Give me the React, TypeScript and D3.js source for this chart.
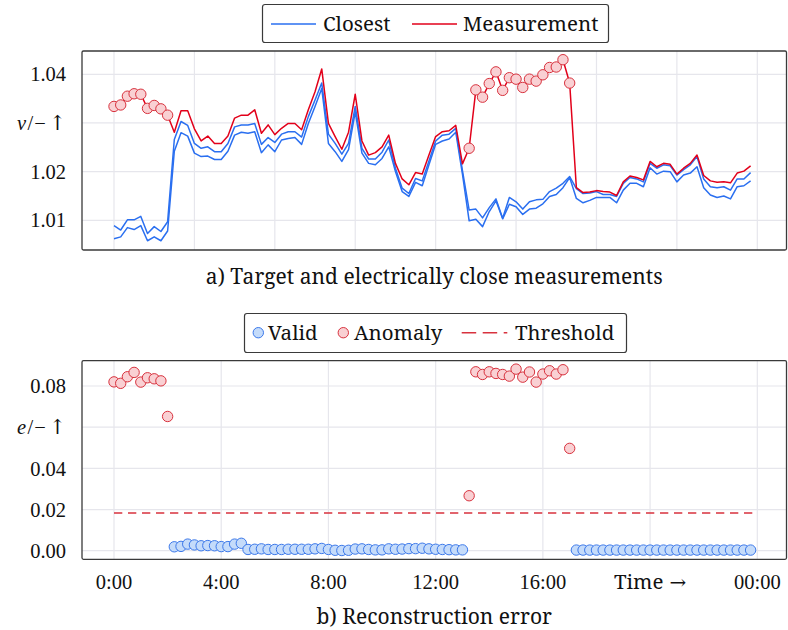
import React from 'react';
import * as d3 from 'd3';

// 15-minute samples over one day (index -> hours = index / 4)
const measurement = [
  1.0334, 1.0337, 1.0355, 1.0360, 1.0359, 1.0330, 1.0336, 1.0329, 1.0316, 1.0281,
  1.0325, 1.0325, 1.0288, 1.0263, 1.0273, 1.0258, 1.0258, 1.0273, 1.0310, 1.0316,
  1.0316, 1.0327, 1.0279, 1.0296, 1.0276, 1.0289, 1.0299, 1.0299, 1.0286, 1.0327,
  1.0364, 1.0411, 1.0299, 1.0272, 1.0246, 1.0281, 1.0359, 1.0263, 1.0234, 1.0239,
  1.0251, 1.0275, 1.0217, 1.0185, 1.0173, 1.0198, 1.0195, 1.0234, 1.0272, 1.0282,
  1.0284, 1.0295, 1.0216, 1.0248, 1.0368, 1.0353, 1.0381, 1.0405, 1.0367, 1.0393,
  1.0390, 1.0373, 1.0390, 1.0386, 1.0399, 1.0414, 1.0415, 1.0430, 1.0382, 1.0167,
  1.0157, 1.0158, 1.0161, 1.0159, 1.0158, 1.0151, 1.0179, 1.0191, 1.0188, 1.0183,
  1.0221, 1.0210, 1.0217, 1.0215, 1.0195, 1.0207, 1.0217, 1.0234, 1.0192, 1.0181,
  1.0178, 1.0179, 1.0177, 1.0197, 1.0201, 1.0212,
];

const closestA = [
  1.0089, 1.0080, 1.0101, 1.0101, 1.0108, 1.0073, 1.0087, 1.0077, 1.0097, 1.0266,
  1.0303, 1.0295, 1.0258, 1.0248, 1.0251, 1.0241, 1.0241, 1.0258, 1.0292, 1.0296,
  1.0296, 1.0299, 1.0256, 1.0270, 1.0260, 1.0277, 1.0282, 1.0282, 1.0271, 1.0313,
  1.0347, 1.0382, 1.0277, 1.0258, 1.0236, 1.0258, 1.0334, 1.0248, 1.0226, 1.0226,
  1.0240, 1.0265, 1.0207, 1.0166, 1.0155, 1.0186, 1.0181, 1.0222, 1.0263, 1.0275,
  1.0277, 1.0289, 1.0202, 1.0121, 1.0123, 1.0105, 1.0126, 1.0144, 1.0104, 1.0147,
  1.0138, 1.0123, 1.0138, 1.0142, 1.0143, 1.0159, 1.0166, 1.0176, 1.0190, 1.0165,
  1.0155, 1.0156, 1.0159, 1.0153, 1.0153, 1.0149, 1.0176, 1.0188, 1.0185, 1.0179,
  1.0217, 1.0207, 1.0214, 1.0212, 1.0193, 1.0204, 1.0214, 1.0231, 1.0185, 1.0169,
  1.0167, 1.0169, 1.0162, 1.0185, 1.0185, 1.0198,
];

const closestB = [
  1.0062, 1.0066, 1.0085, 1.0081, 1.0089, 1.0058, 1.0066, 1.0058, 1.0078, 1.0242,
  1.0280, 1.0273, 1.0238, 1.0231, 1.0232, 1.0225, 1.0225, 1.0242, 1.0275, 1.0281,
  1.0279, 1.0282, 1.0239, 1.0255, 1.0241, 1.0265, 1.0268, 1.0270, 1.0256, 1.0299,
  1.0334, 1.0371, 1.0258, 1.0241, 1.0221, 1.0245, 1.0323, 1.0238, 1.0217, 1.0214,
  1.0227, 1.0251, 1.0200, 1.0159, 1.0149, 1.0178, 1.0171, 1.0214, 1.0256, 1.0263,
  1.0267, 1.0281, 1.0195, 1.0099, 1.0102, 1.0087, 1.0118, 1.0140, 1.0103, 1.0133,
  1.0128, 1.0112, 1.0123, 1.0125, 1.0134, 1.0149, 1.0153, 1.0167, 1.0188, 1.0145,
  1.0136, 1.0141, 1.0147, 1.0147, 1.0147, 1.0136, 1.0162, 1.0176, 1.0176, 1.0169,
  1.0208, 1.0195, 1.0201, 1.0200, 1.0179, 1.0193, 1.0197, 1.0210, 1.0167, 1.0152,
  1.0147, 1.0150, 1.0144, 1.0169, 1.0171, 1.0181,
];

const recError = [
  0.0820, 0.0813, 0.0845, 0.0866, 0.0819, 0.0840, 0.0835, 0.0825, 0.0652, 0.0019,
  0.0021, 0.0032, 0.0028, 0.0024, 0.0025, 0.0024, 0.0020, 0.0020, 0.0032, 0.0036,
  0.0006, 0.0007, 0.0009, 0.0006, 0.0006, 0.0006, 0.0007, 0.0007, 0.0007, 0.0007,
  0.0009, 0.0011, 0.0006, 0.0002, 0.0001, 0.0002, 0.0008, 0.0009, 0.0006, 0.0004,
  0.0004, 0.0009, 0.0007, 0.0008, 0.0010, 0.0010, 0.0012, 0.0009, 0.0007, 0.0006,
  0.0005, 0.0004, 0.0004, 0.0267, 0.0869, 0.0856, 0.0869, 0.0861, 0.0856, 0.0848,
  0.0882, 0.0843, 0.0868, 0.0819, 0.0858, 0.0874, 0.0858, 0.0879, 0.0497, 0.0003,
  0.0003, 0.0003, 0.0003, 0.0003, 0.0003, 0.0003, 0.0003, 0.0003, 0.0003, 0.0003,
  0.0003, 0.0003, 0.0003, 0.0003, 0.0003, 0.0003, 0.0003, 0.0003, 0.0003, 0.0003,
  0.0003, 0.0003, 0.0003, 0.0003, 0.0003, 0.0003,
];

const threshold = 0.0183;

const topYTicks = [1.01, 1.02, 1.04];
const topYLabelValue = 1.03;
const topGridHours = [0, 3, 6, 9, 12, 15, 18, 21, 24];

const bottomYTicks = [0, 0.02, 0.04, 0.08];
const bottomYLabelValue = 0.06;
const bottomXTickHours = [0, 4, 8, 12, 16, 20, 24];
const bottomXTickLabels = ['0:00', '4:00', '8:00', '12:00', '16:00', 'Time', '00:00'];

const NUM = { fontFamily: 'Liberation Serif' };
const WORD = { fontFamily: 'Noto Serif' };
const ARROW = { fontFamily: 'DejaVu Serif' };
const BLUE = '#2a6ff0';
const RED = '#e2001a';
const RED_FILL = '#f9d0d3';
const RED_STROKE = '#d8323e';
const BLUE_FILL = '#c4dbfa';
const BLUE_STROKE = '#3b78ea';
const GRID = '#e6e6ec';
const FRAME = '#3a3a3a';
const INK = '#111';

const PL = 82, PR = 786.5;
const TOP = { t: 51, b: 250 };
const BOT = { t: 360.7, b: 559.3 };

const hourOf = (i: number) => i / 4;

export default function App() {
  const x = d3.scaleLinear().domain([0, 24]).range([114, 757.3]);
  const yTop = d3.scaleLinear().domain([1.01, 1.04]).range([220.3, 74.3]);
  const yBot = d3.scaleLinear().domain([0, 0.08]).range([550.7, 386]);

  const mkLine = (vals: number[]) =>
    d3.line<number>().x((_, i) => x(hourOf(i))).y((v) => yTop(v))(vals) || '';

  const idx = d3.range(recError.length);
  const anomalyIdx = idx.filter((i) => recError[i] > threshold);
  const validIdx = idx.filter((i) => recError[i] <= threshold);

  const tickFs = 20.5;
  const legFs = 20.5;
  const capFs = 21;

  const axisLabel = (sym: string, y: number) => (
    <text x={66} y={y} dy="0.35em" textAnchor="end" fontSize={tickFs} fill={INK} style={NUM}>
      <tspan fontStyle="italic" style={NUM}>{sym}</tspan>
      <tspan dx={1.5} style={NUM}>/</tspan>
      <tspan dx={1} style={NUM}>−</tspan>
      <tspan dx={3} style={ARROW} fontSize={20.5}>↑</tspan>
    </text>
  );

  return (
    <svg
      width={788}
      height={630}
      style={{ position: 'absolute', left: 0, top: 0, background: '#fff', fontFamily: 'Liberation Serif' }}
    >
      {/* ---------- TOP PANEL ---------- */}
      <g>
        {topGridHours.map((h) => (
          <line key={'tg' + h} x1={x(h)} x2={x(h)} y1={TOP.t} y2={TOP.b} stroke={GRID} strokeWidth={1.2} />
        ))}
        {[...topYTicks, topYLabelValue].map((v) => (
          <line key={'ty' + v} x1={PL} x2={PR} y1={yTop(v)} y2={yTop(v)} stroke={GRID} strokeWidth={1.2} />
        ))}
        <path d={mkLine(closestB)} fill="none" stroke={BLUE} strokeWidth={1.5} strokeLinejoin="round" />
        <path d={mkLine(closestA)} fill="none" stroke={BLUE} strokeWidth={1.5} strokeLinejoin="round" />
        <path d={mkLine(measurement)} fill="none" stroke={RED} strokeWidth={1.5} strokeLinejoin="round" />
        {anomalyIdx.map((i) => (
          <circle key={'tm' + i} cx={x(hourOf(i))} cy={yTop(measurement[i])} r={5.2} fill={RED_FILL} stroke={RED_STROKE} strokeWidth={1} />
        ))}
        <rect x={PL} y={TOP.t} width={PR - PL} height={TOP.b - TOP.t} fill="none" stroke={FRAME} strokeWidth={1.3} rx={1.5} />
        {topYTicks.map((v) => (
          <text key={'tyl' + v} x={66} y={yTop(v)} dy="0.35em" textAnchor="end" fontSize={tickFs} fill={INK} style={NUM}>
            {d3.format('.2f')(v)}
          </text>
        ))}
        {axisLabel('v', yTop(topYLabelValue))}
        <text x={(PL + PR) / 2} y={284} textAnchor="middle" fontSize={capFs} fill={INK} style={WORD}>
          a) Target and electrically close measurements
        </text>
        {/* legend */}
        <rect x={262.5} y={4.5} width={346} height={38} rx={2.5} fill="#fff" stroke={FRAME} strokeWidth={1.2} />
        <line x1={271} x2={316} y1={24} y2={24} stroke={BLUE} strokeWidth={1.5} />
        <text x={323} y={30.5} fontSize={legFs} fill={INK} style={WORD}>Closest</text>
        <line x1={412} x2={457} y1={24} y2={24} stroke={RED} strokeWidth={1.5} />
        <text x={463} y={30.5} fontSize={legFs} fill={INK} style={WORD}>Measurement</text>
      </g>

      {/* ---------- BOTTOM PANEL ---------- */}
      <g>
        {bottomXTickHours.map((h) => (
          <line key={'bg' + h} x1={x(h)} x2={x(h)} y1={BOT.t} y2={BOT.b} stroke={GRID} strokeWidth={1.2} />
        ))}
        {[...bottomYTicks, bottomYLabelValue].map((v) => (
          <line key={'by' + v} x1={PL} x2={PR} y1={yBot(v)} y2={yBot(v)} stroke={GRID} strokeWidth={1.2} />
        ))}
        <line
          x1={x(0)}
          x2={x(24)}
          y1={yBot(threshold)}
          y2={yBot(threshold)}
          stroke={RED_STROKE}
          strokeWidth={1.5}
          strokeDasharray="8.3,5.7"
        />
        {validIdx.map((i) => (
          <circle key={'bv' + i} cx={x(hourOf(i))} cy={yBot(recError[i])} r={5.2} fill={BLUE_FILL} stroke={BLUE_STROKE} strokeWidth={1} />
        ))}
        {anomalyIdx.map((i) => (
          <circle key={'ba' + i} cx={x(hourOf(i))} cy={yBot(recError[i])} r={5.2} fill={RED_FILL} stroke={RED_STROKE} strokeWidth={1} />
        ))}
        <rect x={PL} y={BOT.t} width={PR - PL} height={BOT.b - BOT.t} fill="none" stroke={FRAME} strokeWidth={1.3} rx={1.5} />
        {bottomYTicks.map((v) => (
          <text key={'byl' + v} x={66} y={yBot(v)} dy="0.35em" textAnchor="end" fontSize={tickFs} fill={INK} style={NUM}>
            {d3.format('.2f')(v)}
          </text>
        ))}
        {axisLabel('e', yBot(bottomYLabelValue))}
        {bottomXTickHours.map((h, k) =>
          bottomXTickLabels[k] === 'Time' ? (
            <text key={'bxl' + h} x={x(h)} y={589} textAnchor="middle" fontSize={legFs} fill={INK} style={WORD}>
              {bottomXTickLabels[k]}
              <tspan dx={6} style={ARROW} fontSize={20}>→</tspan>
            </text>
          ) : (
            <text key={'bxl' + h} x={x(h)} y={589} textAnchor="middle" fontSize={tickFs} fill={INK} style={NUM}>
              {bottomXTickLabels[k]}
            </text>
          )
        )}
        <text x={(PL + PR) / 2} y={624} textAnchor="middle" fontSize={capFs} fill={INK} style={WORD}>
          b) Reconstruction error
        </text>
        {/* legend */}
        <rect x={244.5} y={313.5} width={382} height={39} rx={2.5} fill="#fff" stroke={FRAME} strokeWidth={1.2} />
        <circle cx={258.3} cy={332.7} r={5.2} fill={BLUE_FILL} stroke={BLUE_STROKE} strokeWidth={1} />
        <text x={268} y={339.5} fontSize={legFs} fill={INK} style={WORD}>Valid</text>
        <circle cx={343.3} cy={332.7} r={5.2} fill={RED_FILL} stroke={RED_STROKE} strokeWidth={1} />
        <text x={354} y={339.5} fontSize={legFs} fill={INK} style={WORD}>Anomaly</text>
        <line x1={461.7} x2={507.3} y1={332.7} y2={332.7} stroke={RED_STROKE} strokeWidth={1.5} strokeDasharray="14.5,6.5" />
        <text x={515} y={339.5} fontSize={legFs} fill={INK} style={WORD}>Threshold</text>
      </g>
    </svg>
  );
}
